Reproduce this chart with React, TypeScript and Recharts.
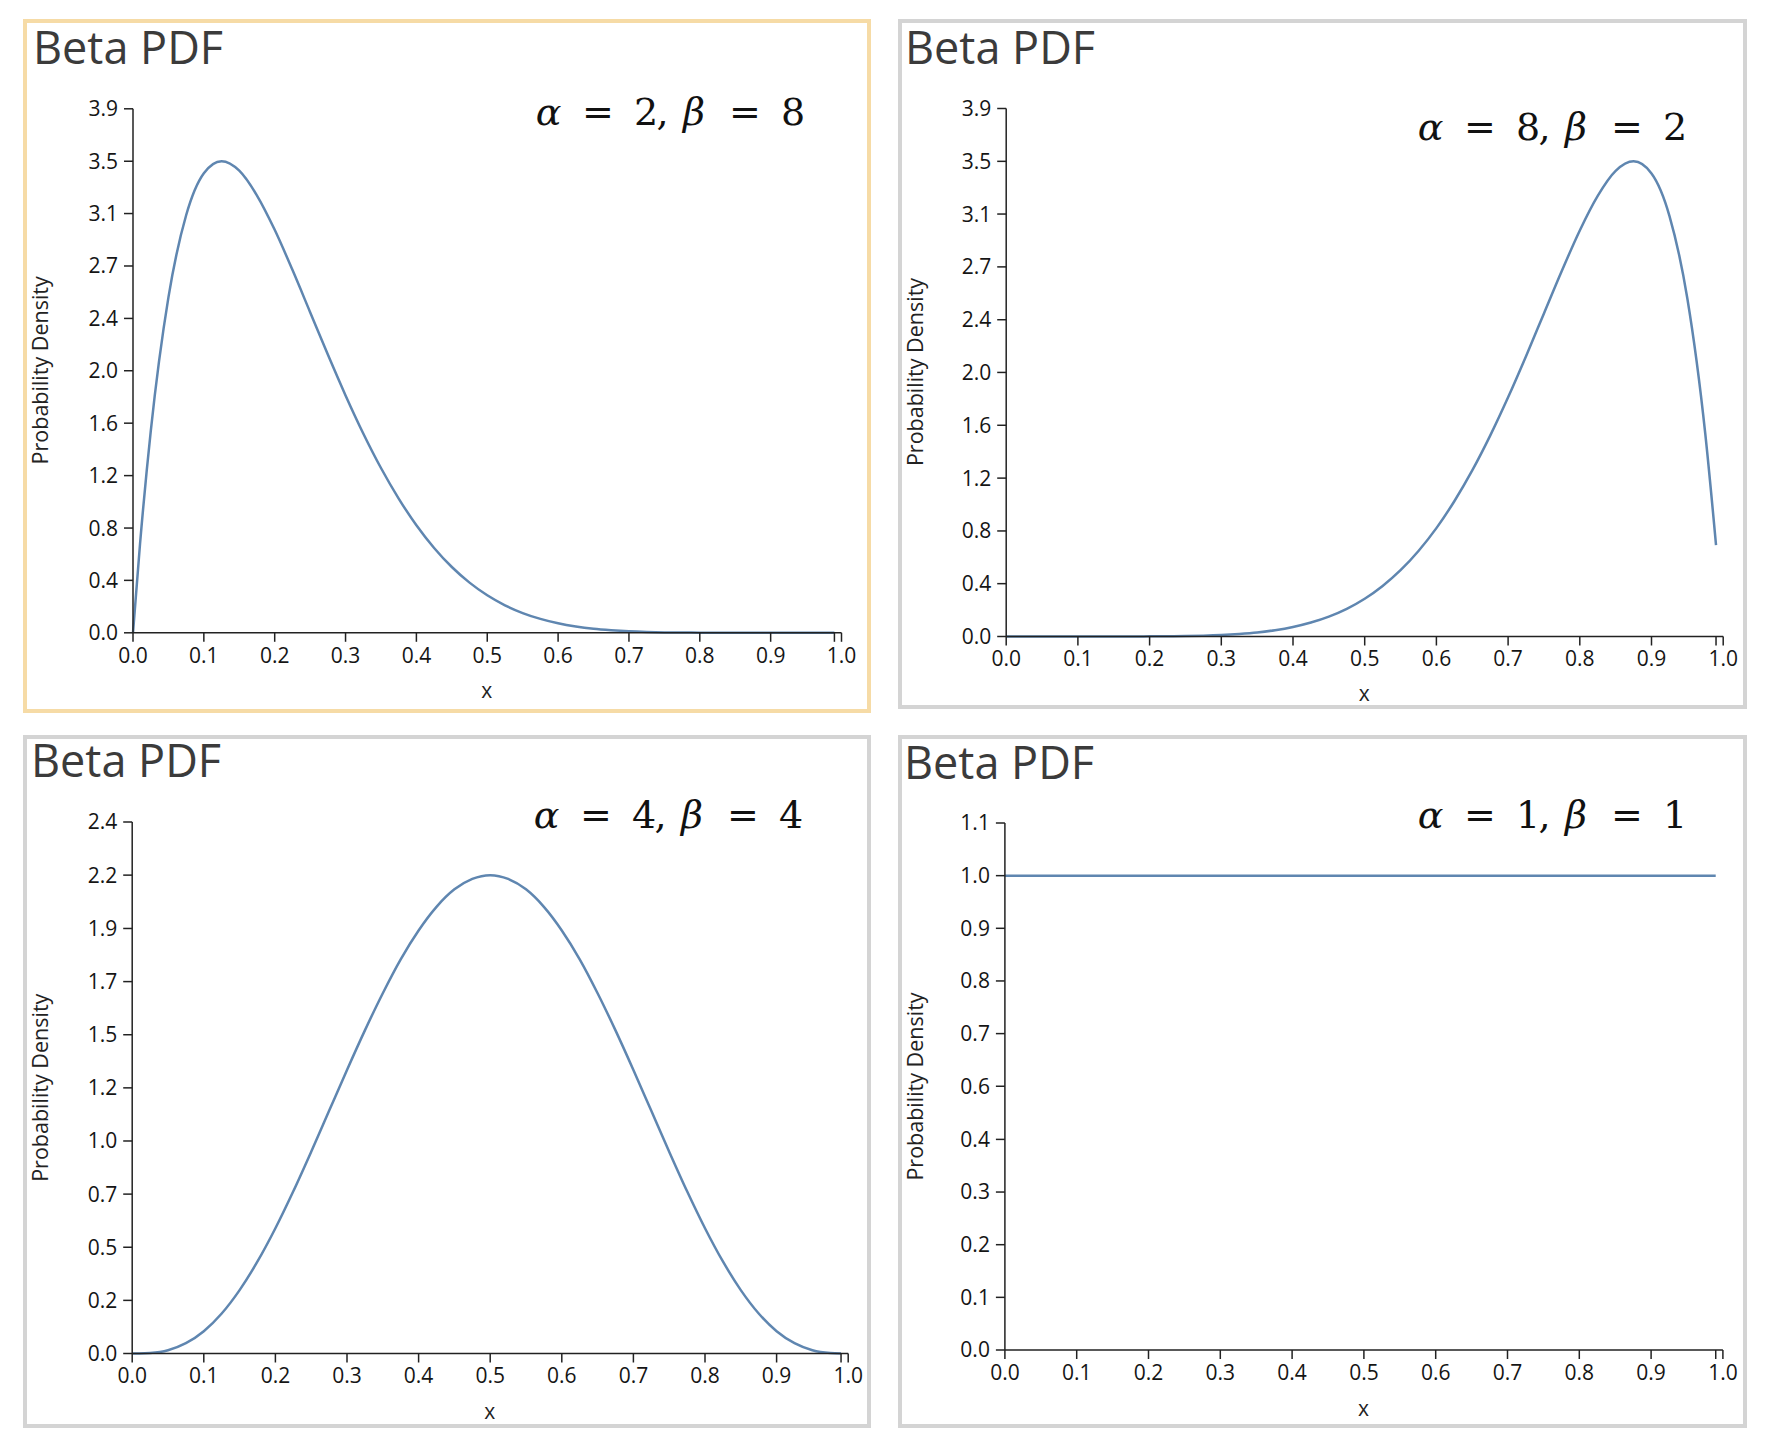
import React from "react";
import { LineChart, Line, XAxis, YAxis } from "recharts";

// sample positions on the x axis (shared by all four panels)
const X_VALUES = [
  0, 0.01, 0.025, 0.05, 0.075, 0.1, 0.125, 0.15, 0.175, 0.2, 0.225, 0.25, 0.275, 0.3,
  0.325, 0.35, 0.375, 0.4, 0.425, 0.45, 0.475, 0.5, 0.525, 0.55, 0.575, 0.6, 0.625,
  0.65, 0.675, 0.7, 0.725, 0.75, 0.775, 0.8, 0.825, 0.85, 0.875, 0.9, 0.925, 0.95,
  0.975, 0.99,
];

// density values
const PDF_A2_B8 = [
  0, 0.671, 1.508, 2.514, 3.129, 3.444, 3.534, 3.463, 3.277, 3.02, 2.72, 2.403, 2.085,
  1.779, 1.494, 1.235, 1.006, 0.806, 0.636, 0.493, 0.376, 0.281, 0.206, 0.148, 0.104,
  0.071, 0.047, 0.03, 0.019, 0.011, 0.006, 0.003, 0.002, 0.001, 0, 0, 0, 0, 0, 0, 0, 0,
];
const PDF_A8_B2 = [
  0, 0, 0, 0, 0, 0, 0, 0, 0, 0.001, 0.002, 0.003, 0.006, 0.011, 0.019, 0.03, 0.047,
  0.071, 0.104, 0.148, 0.206, 0.281, 0.376, 0.493, 0.636, 0.806, 1.006, 1.235, 1.494,
  1.779, 2.085, 2.403, 2.72, 3.02, 3.277, 3.463, 3.534, 3.444, 3.129, 2.514, 1.508, 0.68,
];
const PDF_A4_B4 = [
  0, 0, 0.002, 0.015, 0.047, 0.102, 0.183, 0.29, 0.421, 0.573, 0.742, 0.923, 1.11,
  1.297, 1.478, 1.648, 1.803, 1.935, 2.043, 2.123, 2.171, 2.188, 2.171, 2.123, 2.043,
  1.935, 1.803, 1.648, 1.478, 1.297, 1.11, 0.923, 0.742, 0.573, 0.421, 0.29, 0.183,
  0.102, 0.047, 0.015, 0.002, 0,
];
const PDF_A1_B1 = [
  1, 1, 1, 1, 1, 1, 1, 1, 1, 1, 1, 1, 1, 1, 1, 1, 1, 1, 1, 1, 1, 1, 1, 1, 1, 1, 1, 1,
  1, 1, 1, 1, 1, 1, 1, 1, 1, 1, 1, 1, 1, 1,
];

// x ticks: an unlabelled mark at the last sample, "1.0" at the axis end
const X_TICKS = [0, 0.1, 0.2, 0.3, 0.4, 0.5, 0.6, 0.7, 0.8, 0.9, 0.99, 1];
const X_TICK_LABELS = ["0.0", "0.1", "0.2", "0.3", "0.4", "0.5", "0.6", "0.7", "0.8", "0.9", "", "1.0"];

// y ticks: ten equal steps, labels rounded as printed
const Y_TICKS_SKEW = [0, 0.393, 0.785, 1.178, 1.571, 1.964, 2.356, 2.749, 3.142, 3.534, 3.927];
const Y_LABELS_SKEW = ["0.0", "0.4", "0.8", "1.2", "1.6", "2.0", "2.4", "2.7", "3.1", "3.5", "3.9"];
const Y_TICKS_SYM = [0, 0.243, 0.486, 0.729, 0.972, 1.215, 1.458, 1.701, 1.944, 2.188, 2.431];
const Y_LABELS_SYM = ["0.0", "0.2", "0.5", "0.7", "1.0", "1.2", "1.5", "1.7", "1.9", "2.2", "2.4"];
const Y_TICKS_FLAT = [0, 0.111, 0.222, 0.333, 0.444, 0.556, 0.667, 0.778, 0.889, 1, 1.111];
const Y_LABELS_FLAT = ["0.0", "0.1", "0.2", "0.3", "0.4", "0.6", "0.7", "0.8", "0.9", "1.0", "1.1"];

const TITLE = "Beta PDF";
const Y_TITLE = "Probability Density";
const X_TITLE = "x";

const LINE_COLOR = "#5f86b0";
const AXIS_COLOR = "#222";
const FONT = "'Open Sans', sans-serif";

type Panel = {
  values: number[];
  yTicks: number[];
  yLabels: string[];
  params: [string, string];
  border: string;
  box: { left: number; top: number; right: number; bottom: number };
  plot: { x0: number; x1: number; y0: number; y1: number };
  titlePos: [number, number];
  mathPos: [number, number];
  xTitleY: number;
};

const PANELS: Panel[] = [
  {
    values: PDF_A2_B8,
    yTicks: Y_TICKS_SKEW,
    yLabels: Y_LABELS_SKEW,
    params: ["2", "8"],
    border: "#f6dba6",
    box: { left: 22.5, top: 18.5, right: 870.5, bottom: 712.5 },
    plot: { x0: 132.5, x1: 841, y0: 108.3, y1: 632.3 },
    titlePos: [33, 64],
    mathPos: [535, 125],
    xTitleY: 698,
  },
  {
    values: PDF_A8_B2,
    yTicks: Y_TICKS_SKEW,
    yLabels: Y_LABELS_SKEW,
    params: ["8", "2"],
    border: "#d4d4d4",
    box: { left: 897.5, top: 18.5, right: 1746.5, bottom: 709 },
    plot: { x0: 1005.7, x1: 1722.7, y0: 108, y1: 636 },
    titlePos: [905, 64],
    mathPos: [1417, 140],
    xTitleY: 701,
  },
  {
    values: PDF_A4_B4,
    yTicks: Y_TICKS_SYM,
    yLabels: Y_LABELS_SYM,
    params: ["4", "4"],
    border: "#d4d4d4",
    box: { left: 22.5, top: 735, right: 870.5, bottom: 1428 },
    plot: { x0: 131.7, x1: 847.7, y0: 822, y1: 1353.5 },
    titlePos: [31, 777],
    mathPos: [533, 828],
    xTitleY: 1419,
  },
  {
    values: PDF_A1_B1,
    yTicks: Y_TICKS_FLAT,
    yLabels: Y_LABELS_FLAT,
    params: ["1", "1"],
    border: "#d4d4d4",
    box: { left: 897.5, top: 735, right: 1746.5, bottom: 1428 },
    plot: { x0: 1004.4, x1: 1722.4, y0: 823, y1: 1350 },
    titlePos: [904, 779],
    mathPos: [1417, 828],
    xTitleY: 1416,
  },
];

const Y_AXIS_W = 60;
const X_AXIS_H = 40;

function BetaChart({ p }: { p: Panel }) {
  const { box, plot } = p;
  const w = box.right - box.left;
  const h = box.bottom - box.top;
  const data = X_VALUES.map((x, i) => ({ x, y: p.values[i] }));
  const max = p.yTicks[p.yTicks.length - 1];
  const tickStyle = { fill: "#151515", fontSize: 21, fontFamily: FONT };
  return (
    <div style={{ position: "absolute", left: box.left, top: box.top, width: w, height: h }}>
      <LineChart
        width={w}
        height={h}
        data={data}
        margin={{
          top: plot.y0 - box.top,
          left: plot.x0 - box.left - Y_AXIS_W,
          right: box.right - plot.x1,
          bottom: box.bottom - plot.y1 - X_AXIS_H,
        }}
      >
        <XAxis
          type="number"
          dataKey="x"
          domain={[0, 1]}
          ticks={X_TICKS}
          interval={0}
          height={X_AXIS_H}
          tickSize={9}
          tickMargin={6}
          tick={tickStyle}
          tickFormatter={(v: number) => X_TICK_LABELS[X_TICKS.indexOf(v)] ?? ""}
          axisLine={{ stroke: AXIS_COLOR, strokeWidth: 1.5 }}
          tickLine={{ stroke: AXIS_COLOR, strokeWidth: 1.5 }}
        />
        <YAxis
          type="number"
          domain={[0, max]}
          ticks={p.yTicks}
          interval={0}
          width={Y_AXIS_W}
          tickSize={9}
          tickMargin={6}
          tick={tickStyle}
          tickFormatter={(v: number) => p.yLabels[p.yTicks.indexOf(v)] ?? ""}
          axisLine={{ stroke: AXIS_COLOR, strokeWidth: 1.5 }}
          tickLine={{ stroke: AXIS_COLOR, strokeWidth: 1.5 }}
        />
        <Line
          type="monotone"
          dataKey="y"
          stroke={LINE_COLOR}
          strokeWidth={2.5}
          dot={false}
          activeDot={false}
          isAnimationActive={false}
        />
      </LineChart>
    </div>
  );
}

// glyph centres of "α = a, β = b" relative to its left edge
const MATH_CENTERS = [13.5, 63, 111, 127.5, 159, 210, 258];

function Overlay() {
  return (
    <svg
      width={1766}
      height={1448}
      style={{ position: "absolute", left: 0, top: 0, pointerEvents: "none" }}
    >
      {PANELS.map((p, k) => {
        const glyphs = ["α", "=", p.params[0], ",", "β", "=", p.params[1]];
        const cy = (p.plot.y0 + p.plot.y1) / 2;
        const cx = p.plot.x0 + (p.plot.x1 - p.plot.x0) / 2;
        return (
          <g key={k}>
            <text
              x={p.titlePos[0]}
              y={p.titlePos[1]}
              fontFamily={FONT}
              fontSize={45}
              fill="#3b3b3b"
            >
              {TITLE}
            </text>
            <text fontFamily="'DejaVu Serif', serif" fontSize={38} fill="#111" textAnchor="middle">
              {glyphs.map((g, i) => (
                <tspan
                  key={i}
                  x={p.mathPos[0] + MATH_CENTERS[i]}
                  y={p.mathPos[1]}
                  fontStyle={g === "α" || g === "β" ? "italic" : "normal"}
                >
                  {g}
                </tspan>
              ))}
            </text>
            <text
              transform={`translate(${p.box.left + 25} ${cy}) rotate(-90)`}
              textAnchor="middle"
              fontFamily={FONT}
              fontSize={21.5}
              fill="#222"
            >
              <tspan x={0} y={0}>{Y_TITLE}</tspan>
            </text>
            <text x={cx} y={p.xTitleY} textAnchor="middle" fontFamily={FONT} fontSize={21} fill="#222">
              {X_TITLE}
            </text>
          </g>
        );
      })}
    </svg>
  );
}

export default function App() {
  return (
    <div
      style={{
        position: "absolute",
        left: 0,
        top: 0,
        width: 1766,
        height: 1448,
        background: "#fff",
        overflow: "hidden",
      }}
    >
      {PANELS.map((p, k) => (
        <div
          key={k}
          style={{
            position: "absolute",
            left: p.box.left,
            top: p.box.top,
            width: p.box.right - p.box.left,
            height: p.box.bottom - p.box.top,
            border: `4px solid ${p.border}`,
            boxSizing: "border-box",
          }}
        />
      ))}
      {PANELS.map((p, k) => (
        <BetaChart key={k} p={p} />
      ))}
      <Overlay />
    </div>
  );
}
